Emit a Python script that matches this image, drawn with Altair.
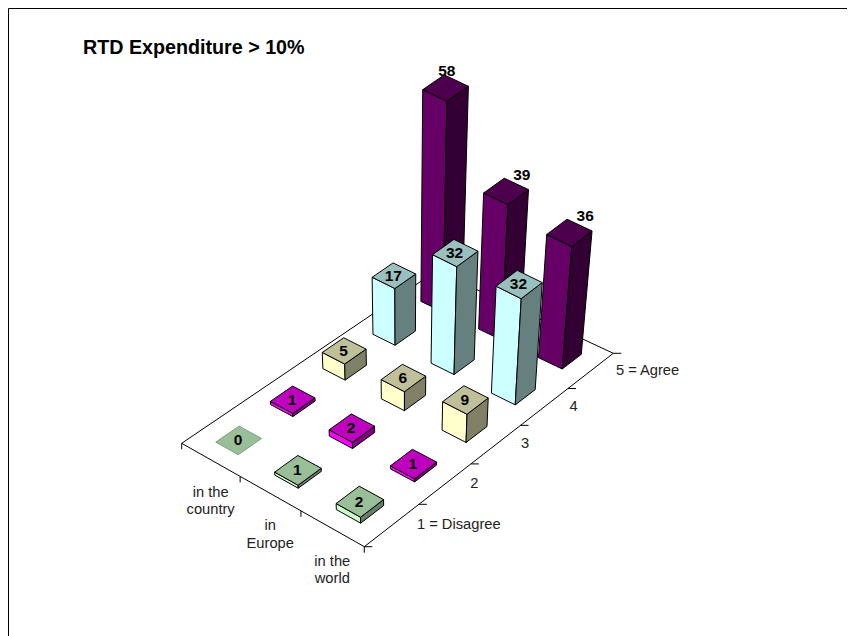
import altair as alt
import pandas as pd

# ---- values -----------------------------------------------------------
columns = ["in the\ncountry", "in\nEurope", "in the\nworld"]
levels = ["1 = Disagree", "2", "3", "4", "5 = Agree"]
v_disagree = [0, 1, 2]
v_two = [1, 2, 1]
v_three = [5, 6, 9]
v_four = [17, 32, 32]
v_agree = [58, 39, 36]
title_text = "RTD Expenditure > 10%"
series = [v_disagree, v_two, v_three, v_four, v_agree]
front_colors = ["#ccffcc", "#ff00ff", "#ffffcc", "#ccffff", "#660066"]
top_colors = ["#99bf99", "#bf00bf", "#bfbf99", "#99bfbf", "#4d004d"]
side_colors = ["#668066", "#800080", "#808066", "#668080", "#330033"]

# ---- projection of the chart's 3-D space onto the page -----------------
W, H = 839, 628
L, F, R, B = (181.7, 443.3), (364.3, 546.7), (613.3, 353.3), (436.5, 270.8)
VX, VY = 403.0, 2400.0   # vanishing point of the verticals
PERSP = 0.00158
BAR_U, BAR_V = 0.385, 0.42


def _homography():
    (x0, y0), (x1, y1), (x2, y2), (x3, y3) = L, F, R, B
    dx1, dx2, sx = x1 - x2, x3 - x2, x0 - x1 + x2 - x3
    dy1, dy2, sy = y1 - y2, y3 - y2, y0 - y1 + y2 - y3
    det = dx1 * dy2 - dx2 * dy1
    g = (sx * dy2 - dx2 * sy) / det
    h = (dx1 * sy - sx * dy1) / det
    return (x1 - x0 + g * x1, x3 - x0 + h * x3, x0,
            y1 - y0 + g * y1, y3 - y0 + h * y3, y0, g, h)


A, Bb, C, D, E, Ff, G, Hh = _homography()
NU, NV = len(columns), len(levels)


def project(u, v, z=0.0):
    s, t = u / NU, v / NV
    w = G * s + Hh * t + 1
    x = (A * s + Bb * t + C) / w
    y = (D * s + E * t + Ff) / w
    k = 1 / (1 - PERSP * z)
    return VX + (x - VX) * k, VY + (y - VY) * k


# ---- build the faces, back to front ------------------------------------
faces, labels = [], []
fid = 0


def add_face(points, fill, stroke):
    global fid
    for n, (x, y) in enumerate(points):
        faces.append(dict(face=f"f{fid:03d}", n=n, x=x, y=y, fill=fill, stroke=stroke))
    fid += 1


for v in range(NV - 1, -1, -1):
    for u in range(NU):
        z = series[v][u]
        u0, u1 = u + 0.5 - BAR_U / 2, u + 0.5 + BAR_U / 2
        v0, v1 = v + 0.5 - BAR_V / 2, v + 0.5 + BAR_V / 2
        stroke = "#000000" if z > 0 else "#7f9f7f"
        if z > 0:
            add_face([project(u0, v0), project(u1, v0), project(u1, v0, z), project(u0, v0, z)],
                     front_colors[v], stroke)
            add_face([project(u1, v0), project(u1, v1), project(u1, v1, z), project(u1, v0, z)],
                     side_colors[v], stroke)
        add_face([project(u0, v0, z), project(u1, v0, z), project(u1, v1, z), project(u0, v1, z)],
                 top_colors[v], stroke)
        cx, cy = project(u + 0.5, v + 0.5, z)
        tall = v == NV - 1
        labels.append(dict(x=cx + (0 if not tall else (2 if u == 0 else 16.5)) - 0.7,
                           y=cy - (16.5 if tall else 0), text=str(z)))

faces_df = pd.DataFrame(faces)
labels_df = pd.DataFrame(labels)

# ---- floor outline and ticks ------------------------------------------
lines = []


def add_line(name, pts):
    for n, (x, y) in enumerate(pts):
        lines.append(dict(line=name, n=n, x=x, y=y))


add_line("floor", [project(0, 0), project(NU, 0), project(NU, NV), project(0, NV), project(0, 0)])
for u in range(NU + 1):
    px, py = project(u, 0)
    add_line(f"tu{u}", [(px, py), (px, py + 6)])
for v in range(NV + 1):
    px, py = project(NU, v)
    add_line(f"tv{v}", [(px, py), (px + 8, py)])
lines_df = pd.DataFrame(lines)

# ---- frame (only top and left are drawn in the reference) ---------------
frame_df = pd.DataFrame([
    dict(n=0, x=8.5, y=8 + H), dict(n=1, x=8.5, y=8.5), dict(n=2, x=8.0 + W, y=8.5),
])

# ---- axis text ---------------------------------------------------------
axis_text = []
for u, name in enumerate(columns):
    px, py = project(u + 0.5, 0)
    for k, part in enumerate(name.split("\n")):
        axis_text.append(dict(x=px, y=py + 33 + 17.5 * k, text=part, align="center"))
for v, name in enumerate(levels):
    px, py = project(NU, v + 0.5)
    axis_text.append(dict(x=px + 25, y=py, text=name, align="left"))
axis_df = pd.DataFrame(axis_text)

# ---- chart -------------------------------------------------------------
X = alt.X("x:Q", scale=alt.Scale(domain=[8, 8 + W], range=[0, W], nice=False, zero=False), axis=None)
Y = alt.Y("y:Q", scale=alt.Scale(domain=[8, 8 + H], range=[0, H], nice=False, zero=False), axis=None)
FONT = "Liberation Sans"

frame = alt.Chart(frame_df).mark_line(color="#000000", strokeWidth=1, clip=False).encode(x=X, y=Y, order="n:Q")
floor = alt.Chart(lines_df).mark_line(color="#000000", strokeWidth=1).encode(
    x=X, y=Y, order="n:Q", detail="line:N")
bars = alt.Chart(faces_df).mark_line(interpolate="linear-closed", strokeWidth=1, strokeJoin="round").encode(
    x=X, y=Y, order="n:Q", detail="face:N",
    fill=alt.Fill("fill:N", scale=None),
    stroke=alt.Stroke("stroke:N", scale=None),
)
bar_text = alt.Chart(labels_df).mark_text(
    font=FONT, fontSize=15.5, fontWeight="bold", color="#000000", baseline="middle", align="center"
).encode(x=X, y=Y, text="text:N")
ax_left = alt.Chart(axis_df[axis_df["align"] == "center"]).mark_text(
    font=FONT, fontSize=14.7, color="#222222", baseline="middle", align="center"
).encode(x=X, y=Y, text="text:N")
ax_right = alt.Chart(axis_df[axis_df["align"] == "left"]).mark_text(
    font=FONT, fontSize=14.7, color="#222222", baseline="middle", align="left"
).encode(x=X, y=Y, text="text:N")
title = alt.Chart(pd.DataFrame([dict(x=83, y=48, text=title_text)])).mark_text(
    font=FONT, fontSize=19.7, fontWeight="bold", color="#000000", baseline="middle", align="left"
).encode(x=X, y=Y, text="text:N")

chart = alt.layer(frame, floor, bars, bar_text, ax_left, ax_right, title).properties(
    width=W, height=H, padding=0, autosize=alt.AutoSizeParams(type="none"),
    background="#ffffff",
).configure_view(stroke=None)

chart.save("out.html", embed_options={"renderer": "svg", "actions": False})
